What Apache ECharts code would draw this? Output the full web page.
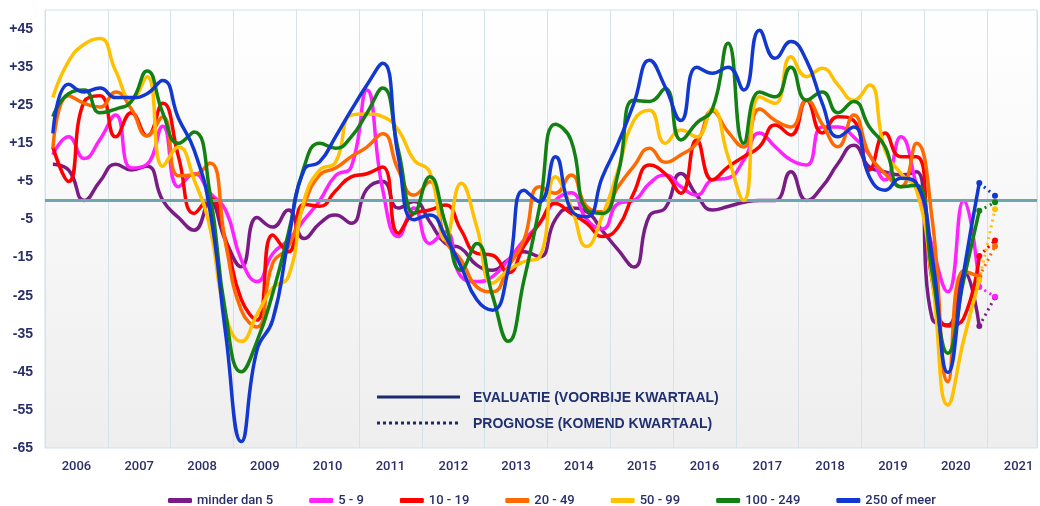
<!DOCTYPE html>
<html>
<head>
<meta charset="utf-8">
<script src="https://cdn.jsdelivr.net/npm/echarts@6/dist/echarts.min.js"></script>
<style>
html, body { margin:0; padding:0; background:#fff; }
#chart { width:1040px; height:506px; }
</style>
</head>
<body>
<div id="chart"></div>
<script>
// kwartaalcijfers 2006 K1 .. 2020 K4, plus prognose 2021 K1
const startYear = 2006;
const names = ['minder dan 5', '5 - 9', '10 - 19', '20 - 49', '50 - 99', '100 - 249', '250 of meer'];
const colors = ['#7a1c86', '#ff22ff', '#ff0000', '#ff6a00', '#ffc000', '#128012', '#1238d0'];

const minderDan5 = [9.5, 8, 0, 5, 9.5, 8, 9, 0, -4.5, -7.8, -0.5, -10.5, -17.4, -4.5, -7, -2.5,
  -10, -6, -3.8, -6, 3, 5, -2, -0.3, -5.6, -11.3, -12.6, -17, -18.3, -15.6, -13.5, -14.8,
  -5, -2, -3, -8, -13, -17.5, -4, -2, 7.1, 1.4, -2.5, -1.6, -0.5, 0, 0, 7.5,
  0, 3.6, 9.7, 14.5, 8.8, 7.5, 6.7, 7.5, -31, -32.7, -18.5, -33];
const k5tot9 = [12, 16.7, 11, 16, 22.4, 8.5, 9.5, 19.5, 3.6, 7, 2, -2.5, -15.6, -21.3, -14, -10.4,
  -5.1, 0, 6.5, 8.8, 29, 3, -9.5, -2, -11.3, -8.2, -20, -21.3, -20, -15.6, -10.4, -6,
  0, 2, -5, -7.5, -0.8, 0, 4.5, 6.7, 3.6, 1.4, 5.4, 5.9, 10.6, 17.7, 14.1, 10.6,
  9.3, 19.3, 19.3, 16.7, 12, 5.4, 16.7, 4, -12, -24, 0, -22.7];
const k10tot19 = [14, 5, 26, 27.5, 16.7, 23, 17, 25.5, 11.5, -3.4, 0.6, -10.4, -26, -31.4, -9.1, -13.5,
  -1, -1.5, 2.5, 6.2, 7, 8.8, -8.6, -3.4, -2.5, -1.2, -7.8, -13.9, -14.4, -19, -12, -6,
  -0.8, -3.4, -6, -9.5, -7, 2, 9.3, 7, 1.9, 15.9, 5.4, 8.8, 11.5, 14.1, 19.8, 17.2,
  26.3, 17.7, 22, 21, 8, 17.7, 11.5, 11.5, -21, -33, -31, -14.6];
const k20tot49 = [13.7, 27.5, 25.5, 24.5, 28.5, 24, 17, 22, 6.5, 6.7, 9.8, -11.3, -28.8, -33.2, -16.5, -12.2,
  -1, 6.7, 8.5, 11.5, 14, 17.5, 8, 1.4, 4.9, -10.4, -15.6, -22.7, -24, -17.4, -10.4, 3.6,
  1.9, 6.7, -1.6, -3, 3.6, 9, 13.7, 10, 12, 15, 23.5, 18, 14, 24, 21, 19.3,
  26.3, 20, 14.1, 22.4, 12, 7, 3.6, 15, -5, -47.6, -18.5, -20];
const k50tot99 = [27, 36.5, 41, 42.5, 34, 26.5, 32.5, 9, 14, 5.4, -7, -30, -37, -30, -23, -20,
  0, 8, 10, 22.4, 22.7, 22, 18.5, 10.6, 7.5, -10.4, 4.5, -7, -21.7, -18.3, -16.1, -14.8,
  6.2, -1.6, -12.1, -4, 8, 21, 23.7, 15, 18.5, 16.7, 24, 11.5, 0, 27.2, 25.5, 37.7,
  32.5, 34.7, 30.3, 26.3, 30.3, 13.2, 7.1, 2.7, -20.9, -53.7, -36.7, -20.9];
const k100tot249 = [22, 28, 29, 23, 24, 26, 34, 23, 15, 18, 2, -29.6, -45, -37, -24.4, -8.6,
  8.8, 15, 13.7, 16.7, 22.9, 29.5, 13.2, -3.4, 6.2, -6, -18.3, -11.3, -25, -37, -21, -1.6,
  20, 15.8, -2.5, -3.4, 7.1, 26.3, 26, 29.4, 15.9, 20.3, 24, 41.3, 15, 28.5, 27.2, 35,
  26.3, 28.5, 23, 26, 19.3, 14.1, 3.6, 4, -19, -40.1, -21, -2.7];
const k250ofMeer = [17.6, 30.5, 28.5, 29.5, 27, 27, 28, 31.5, 21.6, 13.2, -2.5, -34.9, -63.3, -39.3, -31.4, -10.4,
  8, 10.2, 16.7, 23.7, 30.3, 36, 11.5, -5.1, -3.8, -9.5, -17.4, -26.1, -28.8, -18.3, 2.7, -0.3,
  11.5, -2.5, -4.3, 6.2, 15, 25.5, 36.8, 29.8, 21, 35, 33.4, 35, 29, 44.7, 37.3, 41.7,
  36.7, 25.5, 16.7, 19.3, 6.2, 2.7, 5.8, 4.5, -14.8, -45.2, -19, 4.6];

const evaluatie = [minderDan5, k5tot9, k10tot19, k20tot49, k50tot99, k100tot249, k250ofMeer];
const prognose = [-25.4, -25.3, -10.5, -12, -2.3, -0.5, 1.2];

const textColor = '#2a2f6a';
const narrowFont = 'Roboto, "DejaVu Sans", sans-serif';
const xMax = startYear + 995 / 63;

function qx(i) { return startYear + (i + 0.5) / 4; }

const chart = echarts.init(document.getElementById('chart'));

const series = [{
  type: 'line', data: [[startYear, 0]], showSymbol: false, silent: true,
  lineStyle: { opacity: 0 }, z: 1,
  markLine: {
    silent: true, symbol: 'none', label: { show: false },
    lineStyle: { color: '#6fa5b0', width: 3, type: 'solid' },
    data: [{ yAxis: 0 }]
  }
}];

names.forEach(function (n, k) {
  const vals = evaluatie[k];
  const last = vals.length - 1;
  series.push({
    name: n, type: 'line', smooth: 0.5, showSymbol: false, z: 2 + k,
    data: vals.map(function (v, i) { return [qx(i), v]; }),
    lineStyle: { width: 3.5, color: colors[k] },
    itemStyle: { color: colors[k] }
  });
  series.push({
    name: n, type: 'line', symbol: 'circle', symbolSize: 6, showSymbol: true, z: 2 + k,
    data: [[qx(last), vals[last]], [qx(last + 1), prognose[k]]],
    lineStyle: { width: 3, type: [2, 4], color: colors[k] },
    itemStyle: { color: colors[k] }
  });
});

const option = {
  animation: false,
  backgroundColor: '#ffffff',
  grid: {
    left: 45, right: 0, top: 10, bottom: 58, show: true,
    borderColor: '#cfe1e5', borderWidth: 1,
    backgroundColor: {
      type: 'linear', x: 0, y: 0, x2: 0, y2: 1,
      colorStops: [{ offset: 0, color: '#ffffff' }, { offset: 1, color: '#eeeeee' }]
    }
  },
  legend: {
    data: names, left: 163, top: 489,
    icon: 'roundRect', itemWidth: 24, itemHeight: 5, itemGap: 36,
    textStyle: { fontFamily: narrowFont, fontSize: 13, fontWeight: 500, color: textColor }
  },
  xAxis: [{
    type: 'value', min: startYear, max: xMax, interval: 1,
    axisLine: { show: false }, axisTick: { show: false }, axisLabel: { show: false },
    splitLine: { show: true, lineStyle: { color: '#d3e3e7', width: 1 } }
  }, {
    type: 'value', min: startYear, max: xMax, interval: 0.5, position: 'bottom',
    axisLine: { show: false }, axisTick: { show: false }, splitLine: { show: false },
    axisLabel: {
      margin: 12, color: textColor, fontFamily: narrowFont, fontSize: 13, fontWeight: 500,
      formatter: function (v) {
        return Math.abs(v % 1 - 0.5) < 1e-6 ? String(Math.floor(v)) : '';
      }
    }
  }],
  yAxis: {
    type: 'value', min: -65, max: 50, interval: 10,
    axisLine: { show: false }, axisTick: { show: false }, splitLine: { show: false },
    axisLabel: {
      margin: 12, color: textColor, fontWeight: 'bold', fontSize: 14, fontFamily: 'Liberation Sans',
      formatter: function (v) {
        if (v === 50) return '';
        return v > 0 ? '+' + v : String(v);
      }
    }
  },
  graphic: [
    { type: 'line', shape: { x1: 377, y1: 397, x2: 460, y2: 397 }, style: { stroke: '#1b2a6b', lineWidth: 3 }, z: 100 },
    { type: 'text', x: 473, y: 398, z: 100, style: { text: 'EVALUATIE (VOORBIJE KWARTAAL)', font: 'bold 14px "Liberation Sans"', fill: '#1f2f70', verticalAlign: 'middle' } },
    { type: 'line', shape: { x1: 377, y1: 423, x2: 460, y2: 423 }, style: { stroke: '#1b2a6b', lineWidth: 3, lineDash: [3, 3] }, z: 100 },
    { type: 'text', x: 473, y: 424, z: 100, style: { text: 'PROGNOSE (KOMEND KWARTAAL)', font: 'bold 14px "Liberation Sans"', fill: '#1f2f70', verticalAlign: 'middle' } }
  ],
  series: series
};

chart.setOption(option);
</script>
</body>
</html>
